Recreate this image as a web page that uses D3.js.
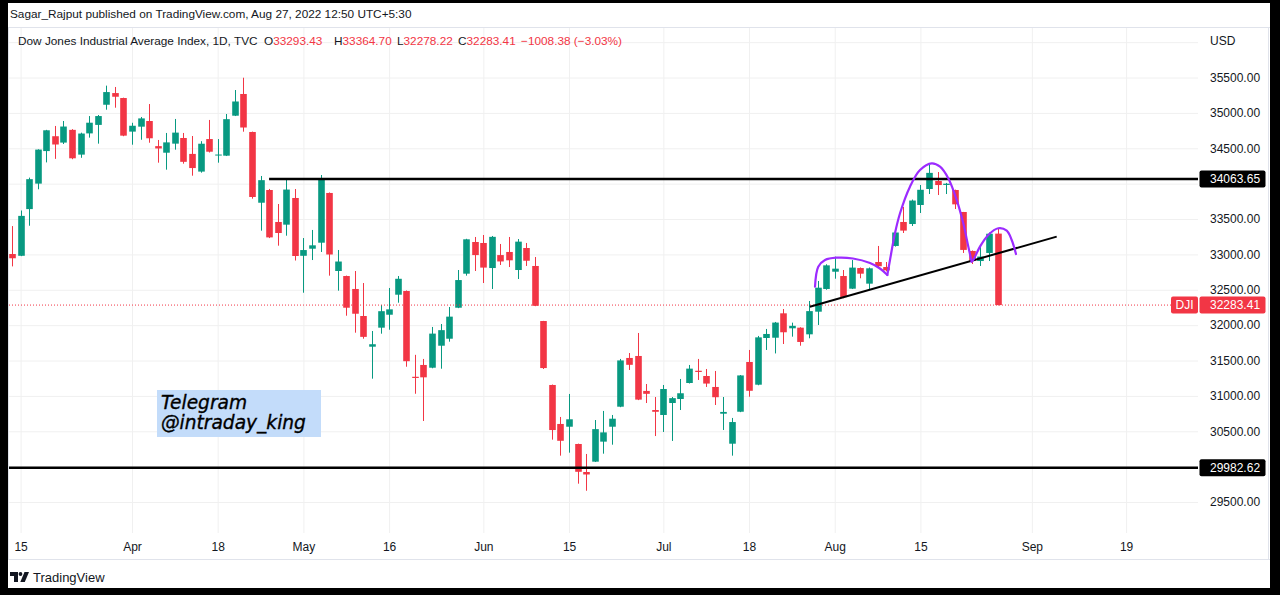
<!DOCTYPE html>
<html>
<head>
<meta charset="utf-8">
<script src="https://cdn.jsdelivr.net/npm/d3@7"></script>
<style>
  body { margin: 0; background: #000; }
  svg { display: block; font-family: "Liberation Sans", Arial, sans-serif; }
</style>
</head>
<body>
<svg id="chart"></svg>
<script>
const dates = [
  "2022-03-14","2022-03-15","2022-03-16","2022-03-17","2022-03-18",
  "2022-03-21","2022-03-22","2022-03-23","2022-03-24","2022-03-25",
  "2022-03-28","2022-03-29","2022-03-30","2022-03-31","2022-04-01",
  "2022-04-04","2022-04-05","2022-04-06","2022-04-07","2022-04-08",
  "2022-04-11","2022-04-12","2022-04-13","2022-04-14",
  "2022-04-18","2022-04-19","2022-04-20","2022-04-21","2022-04-22",
  "2022-04-25","2022-04-26","2022-04-27","2022-04-28","2022-04-29",
  "2022-05-02","2022-05-03","2022-05-04","2022-05-05","2022-05-06",
  "2022-05-09","2022-05-10","2022-05-11","2022-05-12","2022-05-13",
  "2022-05-16","2022-05-17","2022-05-18","2022-05-19","2022-05-20",
  "2022-05-23","2022-05-24","2022-05-25","2022-05-26","2022-05-27",
  "2022-05-31","2022-06-01","2022-06-02","2022-06-03",
  "2022-06-06","2022-06-07","2022-06-08","2022-06-09","2022-06-10",
  "2022-06-13","2022-06-14","2022-06-15","2022-06-16","2022-06-17",
  "2022-06-21","2022-06-22","2022-06-23","2022-06-24",
  "2022-06-27","2022-06-28","2022-06-29","2022-06-30","2022-07-01",
  "2022-07-05","2022-07-06","2022-07-07","2022-07-08",
  "2022-07-11","2022-07-12","2022-07-13","2022-07-14","2022-07-15",
  "2022-07-18","2022-07-19","2022-07-20","2022-07-21","2022-07-22",
  "2022-07-25","2022-07-26","2022-07-27","2022-07-28","2022-07-29",
  "2022-08-01","2022-08-02","2022-08-03","2022-08-04","2022-08-05",
  "2022-08-08","2022-08-09","2022-08-10","2022-08-11","2022-08-12",
  "2022-08-15","2022-08-16","2022-08-17","2022-08-18","2022-08-19",
  "2022-08-22","2022-08-23","2022-08-24","2022-08-25","2022-08-26"
];

// empty sessions to the right of the last bar
const futureDates = [
  "2022-08-29","2022-08-30","2022-08-31","2022-09-01","2022-09-02",
  "2022-09-06","2022-09-07","2022-09-08","2022-09-09",
  "2022-09-12","2022-09-13","2022-09-14","2022-09-15","2022-09-16",
  "2022-09-19","2022-09-20","2022-09-21","2022-09-22","2022-09-23",
  "2022-09-26","2022-09-27","2022-09-28","2022-09-29"
];

const opens = [
  33005, 32980, 33640, 34000, 34460,
  34670, 34580, 34760, 34410, 34710,
  34830, 35115, 35280, 35210, 34735,
  34805, 34885, 34530, 34437, 34565,
  34645, 34420, 34170, 34630,
  34405, 34395, 34960, 35267, 34730,
  33730, 33910, 33458, 33420, 33797,
  32980, 33080, 33165, 33868, 32765,
  32694, 32511, 32129, 31695, 31964,
  32147, 32430, 32482, 31270, 31437,
  31398, 31709, 31808, 32246, 32727,
  33175, 33161, 32807, 32990,
  33034, 32779, 33090, 32836, 32058,
  31154, 30603, 30564, 30320, 29924,
  30070, 30353, 30564, 30847,
  31536, 31564, 31070, 30800, 30730,
  30899, 30956, 31182, 31355,
  31281, 31126, 30748, 30324, 30776,
  31479, 31158, 31818, 31822, 32167,
  31955, 31964, 31870, 32190, 32511,
  32755, 32694, 32515, 32807, 32586,
  32892, 32821, 33119, 33458, 33429,
  33698, 33924, 34037, 33981, 33910,
  33599, 33048, 32906, 33020, 33293.43
];

const highs = [
  33400, 33620, 34085, 34485, 34760,
  34815, 34885, 34770, 34720, 34955,
  34970, 35385, 35366, 35215, 34860,
  34942, 35125, 34617, 34716, 34914,
  34716, 34673, 34600, 34900,
  34630, 34984, 35323, 35497, 34735,
  34108, 33925, 33712, 34064, 33924,
  33231, 33345, 34122, 33875, 33062,
  32700, 32765, 32595, 31917, 32285,
  32525, 32694, 32490, 31580, 31522,
  31974, 32016, 32256, 32779, 33220,
  33246, 33274, 33260, 33147,
  33246, 33217, 33161, 32963, 32060,
  31160, 30702, 31027, 30325, 30179,
  30659, 30787, 30730, 31522,
  31606, 31889, 31168, 30984, 31154,
  30984, 31239, 31437, 31522,
  31380, 31352, 30984, 30688, 31295,
  31649, 31847, 31946, 32045, 32228,
  32035, 31970, 32341, 32624, 32860,
  32968, 32779, 32920, 32815, 32815,
  33119, 32892, 33373, 33670, 33775,
  33981, 34277, 34164, 34010, 33915,
  33600, 33055, 33104, 33310, 33364.70
];

const lows = [
  32830, 32975, 33405, 33920, 34300,
  34350, 34560, 34345, 34365, 34650,
  34565, 35045, 35073, 34670, 34550,
  34620, 34578, 34296, 34197, 34480,
  34282, 34112, 34155, 34440,
  34296, 34390, 34955, 34734, 33787,
  33335, 33230, 33123, 33264, 32913,
  32458, 32920, 33034, 32699, 32487,
  32133, 31893, 31808, 31243, 31879,
  31935, 32317, 31412, 31030, 30645,
  31390, 31384, 31766, 32240, 32699,
  32765, 32595, 32511, 32850,
  32821, 32652, 32836, 32268, 31380,
  30381, 30155, 30197, 29759, 29659,
  30065, 30183, 30310, 30840,
  31366, 30940, 30899, 30432, 30490,
  30363, 30800, 31175, 31225,
  31126, 30871, 30518, 30155, 30770,
  30988, 31150, 31649, 31600, 31733,
  31837, 31709, 31814, 32002, 32500,
  32656, 32380, 32510, 32662, 32501,
  32815, 32760, 33110, 33302, 33401,
  33585, 33853, 33839, 33853, 33641,
  33020, 32864, 32836, 32906, 32278.22
];

const closes = [
  32945, 33544, 34063, 34481, 34754,
  34553, 34807, 34358, 34708, 34861,
  34955, 35294, 35228, 34678, 34818,
  34922, 34641, 34497, 34583, 34721,
  34308, 34220, 34564, 34451,
  34411, 34911, 35161, 34793, 33811,
  34049, 33240, 33302, 33916, 32977,
  33061, 33128, 34061, 32998, 32899,
  32246, 32161, 31834, 31730, 32197,
  32223, 32655, 31490, 31253, 31262,
  31880, 31929, 32120, 32637, 33213,
  32990, 32813, 33248, 32900,
  32916, 33180, 32910, 32273, 31393,
  30517, 30365, 30669, 29927, 29889,
  30530, 30484, 30677, 31501,
  31439, 30947, 31029, 30775, 31097,
  30968, 31037, 31385, 31338,
  31174, 30981, 30773, 30630, 31289,
  31072, 31827, 31875, 32036, 31899,
  31990, 31762, 32198, 32529, 32845,
  32798, 32396, 32813, 32727, 32803,
  32832, 32774, 33309, 33336, 33761,
  33913, 34152, 33980, 33999, 33707,
  33063, 32910, 32969, 33291.79, 32283.41
];

const tickDates = ["2022-03-15","2022-04-01","2022-04-18","2022-05-02","2022-05-16","2022-06-01",
                   "2022-06-15","2022-07-01","2022-07-18","2022-08-01","2022-08-15","2022-09-01","2022-09-19"];
const tickLabels = ["15","Apr","18","May","16","Jun","15","Jul","18","Aug","15","Sep","19"];

// 30000 and 34000 sit under the level labels, so they are not printed
const priceTicks = [29500, 30500, 31000, 31500, 32000, 32500, 33000, 33500, 34500, 35000, 35500];
const gridPrices = [29500, 30000, 30500, 31000, 31500, 32000, 32500, 33000, 33500, 34000, 34500, 35000, 35500, 36000];

// drawings: [bar position, price]
const levelPrices = [34063.65, 29982.62];
const levelStarts = ["2022-04-26", null];
const trendLine = [[93.1, 32260], [121.9, 33251]];
const leftShoulder = [[93.70,32543],[94.08,32826],[94.87,32921],[96.23,32953],[98.13,32942],[100.12,32878],[101.28,32800],[102.14,32709]];
const headCurve = [[102.14,32709],[102.45,32921],[103.03,33298],[103.62,33581],[104.78,33957],[105.95,34193],[107.32,34287],
                   [108.29,34239],[109.25,34075],[110.23,33769],[111.00,33439],[111.59,33109],[111.98,32897]];
const rightShoulder = [[111.98,32897],[112.17,32921],[112.95,33109],[113.92,33274],[115.09,33369],[116.07,33335],[116.65,33203],[117.15,33005]];

const lastClose = closes[closes.length - 1];

const W = 1280, H = 595;
const plot = { left: 9, right: 1198, top: 28, bottom: 533 };
const upColor = "#089981", downColor = "#f23645", textColor = "#131722";

const allDates = dates.concat(futureDates);
const idx = d => allDates.indexOf(d);

const x = d3.scaleLinear().domain([0, allDates.length - 1]).range([12, 12 + 8.57 * (allDates.length - 1)]);
const y = d3.scaleLinear().domain([29500, 35500]).range([502, 77.5]);

const candles = dates.map((d, i) => ({ i, open: opens[i], high: highs[i], low: lows[i], close: closes[i] }));

const svg = d3.select("#chart").attr("width", W).attr("height", H);

svg.append("rect").attr("width", W).attr("height", H).attr("fill", "#000");
svg.append("rect").attr("x", 8).attr("y", 3).attr("width", 1262).attr("height", 585).attr("fill", "#fff");

// header
svg.append("text").attr("x", 10).attr("y", 18).attr("font-size", 11.8).attr("fill", textColor)
    .text("Sagar_Rajput published on TradingView.com, Aug 27, 2022 12:50 UTC+5:30");
svg.append("line").attr("x1", 8).attr("x2", 1270).attr("y1", 27.5).attr("y2", 27.5).attr("stroke", "#e0e3eb");
svg.append("line").attr("x1", 8).attr("x2", 1270).attr("y1", 559.5).attr("y2", 559.5).attr("stroke", "#e0e3eb");
svg.append("line").attr("x1", 8.5).attr("x2", 8.5).attr("y1", 27).attr("y2", 560).attr("stroke", "#e0e3eb");
svg.append("line").attr("x1", 1268.5).attr("x2", 1268.5).attr("y1", 27).attr("y2", 560).attr("stroke", "#e0e3eb");

// grid
svg.append("g")
    .attr("transform", `translate(${plot.left},0)`)
    .call(d3.axisRight(y).tickValues(gridPrices).tickSize(plot.right - plot.left).tickFormat(""))
    .call(g => g.select(".domain").remove())
    .selectAll("line").attr("stroke", "#f0f0f0");

svg.append("g")
    .attr("transform", `translate(0,${plot.top})`)
    .call(d3.axisBottom(x).tickValues(tickDates.map(idx)).tickSize(plot.bottom - plot.top).tickFormat(""))
    .call(g => g.select(".domain").remove())
    .selectAll("line").attr("stroke", "#f0f0f0");

svg.append("clipPath").attr("id", "plot-clip")
    .append("rect").attr("x", plot.left).attr("y", plot.top)
    .attr("width", plot.right - plot.left).attr("height", plot.bottom - plot.top);

const chart = svg.append("g").attr("clip-path", "url(#plot-clip)");

// candles
const bodyW = 6.6;
const candle = chart.selectAll(".candle").data(candles).enter().append("g").attr("class", "candle")
    .attr("fill", d => d.close >= d.open ? upColor : downColor)
    .attr("stroke", d => d.close >= d.open ? upColor : downColor);

candle.append("line")
    .attr("x1", d => Math.round(x(d.i)) + 0.5).attr("x2", d => Math.round(x(d.i)) + 0.5)
    .attr("y1", d => y(d.high)).attr("y2", d => y(d.low))
    .attr("stroke-width", 1);

candle.append("rect")
    .attr("x", d => Math.round(x(d.i)) + 0.5 - bodyW / 2)
    .attr("y", d => y(Math.max(d.open, d.close)))
    .attr("width", bodyW)
    .attr("height", d => Math.max(1, Math.abs(y(d.open) - y(d.close))))
    .attr("stroke", "none");

// last price dotted line
chart.append("line")
    .attr("x1", plot.left).attr("x2", plot.right)
    .attr("y1", y(lastClose)).attr("y2", y(lastClose))
    .attr("stroke", downColor).attr("stroke-dasharray", "1,2");

// drawings
chart.selectAll(".level").data(levelPrices).enter().append("line").attr("class", "level")
    .attr("x1", (d, i) => levelStarts[i] ? x(idx(levelStarts[i])) : plot.left)
    .attr("x2", plot.right)
    .attr("y1", d => y(d)).attr("y2", d => y(d))
    .attr("stroke", "#000").attr("stroke-width", 2.5);

const line = d3.line().x(d => x(d[0])).y(d => y(d[1]));
chart.append("path").datum(trendLine).attr("d", line)
    .attr("fill", "none").attr("stroke", "#000").attr("stroke-width", 2);

const curve = d3.line().x(d => x(d[0])).y(d => y(d[1])).curve(d3.curveCatmullRom);
chart.selectAll(".arc").data([leftShoulder, headCurve, rightShoulder]).enter().append("path").attr("class", "arc")
    .attr("d", curve)
    .attr("fill", "none").attr("stroke", "#9c2bff").attr("stroke-width", 2.2)
    .attr("stroke-linecap", "round");

// telegram note
svg.append("rect").attr("x", 157).attr("y", 390).attr("width", 164).attr("height", 47).attr("fill", "#c3dcfa");
["Telegram", "@intraday_king"].forEach((t, i) => {
    svg.append("text").attr("x", 161).attr("y", 409 + i * 20)
        .attr("font-family", "'DejaVu Sans', sans-serif").attr("font-style", "italic").attr("font-size", 18.6)
        .attr("fill", "#000").attr("stroke", "#000").attr("stroke-width", 0.35)
        .text(t);
});

// price axis
svg.append("g")
    .attr("transform", `translate(${plot.right},0)`)
    .call(d3.axisRight(y).tickValues(priceTicks).tickSize(0).tickPadding(12).tickFormat(d3.format(".2f")))
    .call(g => g.select(".domain").remove())
    .call(g => g.selectAll("text").attr("fill", textColor).attr("font-size", 12)
        .attr("font-family", "'Liberation Sans', Arial, sans-serif"));

svg.append("text").attr("x", 1210).attr("y", 45).attr("font-size", 12).attr("fill", textColor).text("USD");

// time axis
svg.append("g")
    .attr("transform", `translate(0,${plot.bottom})`)
    .call(d3.axisBottom(x).tickValues(tickDates.map(idx)).tickSize(0).tickPadding(9).tickFormat((d, i) => tickLabels[i]))
    .call(g => g.select(".domain").remove())
    .call(g => g.selectAll("text").attr("fill", textColor).attr("font-size", 12)
        .attr("font-family", "'Liberation Sans', Arial, sans-serif"));

// price labels on the axis
const labelBox = (price, fill, text) => {
    svg.append("rect").attr("x", 1199.5).attr("y", y(price) - 8.5).attr("width", 66).attr("height", 17)
        .attr("rx", 2).attr("fill", fill);
    svg.append("text").attr("x", 1210).attr("y", y(price)).attr("dy", "0.35em")
        .attr("font-size", 12).attr("fill", "#fff").text(text);
};
levelPrices.forEach(p => labelBox(p, "#000", d3.format(".2f")(p)));
labelBox(lastClose, downColor, d3.format(".2f")(lastClose));
svg.append("rect").attr("x", 1171).attr("y", y(lastClose) - 8.5).attr("width", 27).attr("height", 17)
    .attr("rx", 2).attr("fill", downColor);
svg.append("text").attr("x", 1184.5).attr("y", y(lastClose)).attr("dy", "0.35em").attr("text-anchor", "middle")
    .attr("font-size", 12).attr("fill", "#fff").text("DJI");

// legend row
const last = candles[candles.length - 1];
const prev = closes[closes.length - 2];
const fmt = d3.format(".2f");
const change = last.close - prev;
const legend = svg.append("text").attr("y", 45).attr("font-size", 11.8);
legend.append("tspan").attr("x", 18).attr("fill", textColor).text("Dow Jones Industrial Average Index, 1D, TVC");
[["O", last.open, 264], ["H", last.high, 334], ["L", last.low, 397], ["C", last.close, 458]].forEach(([k, v, px]) => {
    legend.append("tspan").attr("x", px).attr("fill", textColor).text(k);
    legend.append("tspan").attr("fill", downColor).text(fmt(v));
});
legend.append("tspan").attr("x", 521).attr("fill", downColor)
    .text(`\u2212${fmt(Math.abs(change))} (\u2212${fmt(Math.abs(change) / prev * 100)}%)`);

// footer logo
const logo = svg.append("g").attr("fill", textColor);
logo.append("path").attr("d", "M10 572h8v10h-4v-6h-4z");
logo.append("circle").attr("cx", 20.5).attr("cy", 574).attr("r", 1.9);
logo.append("path").attr("d", "M24.5 572h4.5l-4.2 10h-4.5z");
svg.append("text").attr("x", 33).attr("y", 582).attr("font-size", 13).attr("fill", textColor).text("TradingView");
</script>
</body>
</html>
